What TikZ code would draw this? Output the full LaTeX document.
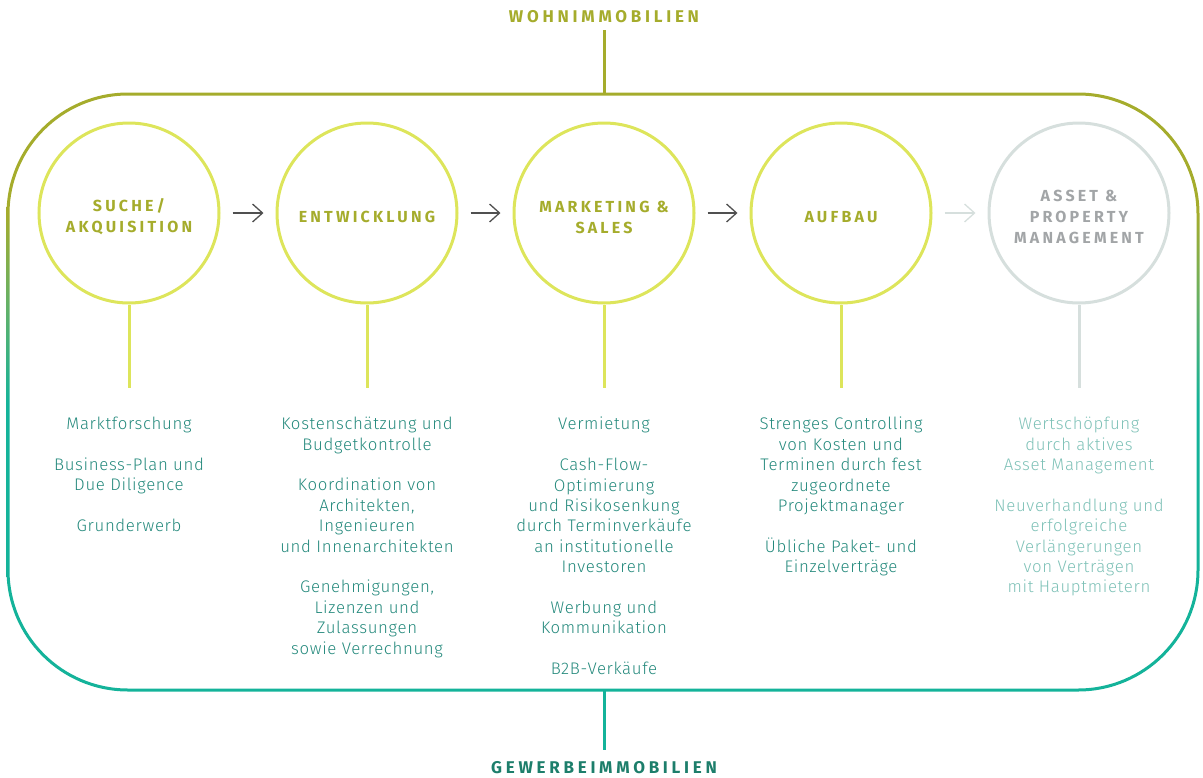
\documentclass[tikz,border=0pt]{standalone}
\usepackage{fontspec}
\IfFontExistsTF{Fira Sans Light}
  {\setmainfont{Fira Sans Light}[LetterSpace=4]}
  {\setmainfont{Fira Sans}[LetterSpace=4]}
\newfontfamily\capsfont{Fira Sans}[LetterSpace=20]
\newfontfamily\sectorfont{Fira Sans}[LetterSpace=22]
\usepackage{xcolor}
\usepackage{tikz}
\usetikzlibrary{positioning, arrows.meta}

\definecolor{wohn}{HTML}{A5AC2C}
\definecolor{gewerbe}{HTML}{14B39A}
\definecolor{gewerbedark}{HTML}{1D7E6B}
\definecolor{framemid}{HTML}{62B169}
\definecolor{ringcol}{HTML}{DDE55B}
\definecolor{ringgray}{HTML}{D6DFDD}
\definecolor{headgray}{HTML}{A2A5A7}
\definecolor{itemcol}{HTML}{24897C}
\definecolor{itemfade}{HTML}{7EC1B7}
\definecolor{arrowcol}{HTML}{505050}

% olive at the top, teal from the middle down
\pgfdeclareverticalshading{frameshade}{100bp}{color(0bp)=(gewerbe); color(49bp)=(gewerbe); color(57bp)=(framemid); color(65bp)=(wohn); color(100bp)=(wohn)}

\tikzset{
  phase/.style={circle, draw=ringcol, line width=3pt, minimum size=180pt, inner sep=0pt},
  heading/.style={align=center, inner sep=0pt, text=wohn, font=\capsfont\bfseries\fontsize{16}{21}\selectfont},
  items/.style={align=center, inner sep=0pt, text=itemcol, font=\fontsize{16.8}{20.4}\selectfont},
  stem/.style={draw=ringcol, line width=3pt, shorten >=29pt},
  flow/.style={draw=arrowcol, line width=1.3pt, -{Straight Barb[length=10pt, width=18pt]}, shorten <=12pt, shorten >=12pt},
  sector/.style={inner sep=0pt, font=\sectorfont\bfseries\fontsize{17}{18}\selectfont}
}

\begin{document}
\begin{tikzpicture}[x=1pt, y=-1pt]
  \useasboundingbox (0,0) rectangle (1203,777);

  % rounded frame
  \shade[shading=frameshade, even odd rule, rounded corners=121.5pt] (6.5,92.5) rectangle (1199.5,691.5)
    [rounded corners=118.5pt] (9.5,95.5) rectangle (1196.5,688.5);
  \coordinate (frametop) at (604,94);
  \coordinate (framebot) at (604,690);

  \node[sector, text=wohn] (wohnlabel) at (604,17) {WOHNIMMOBILIEN};
  \node[sector, text=gewerbedark] (gewerbelabel) at (604,767.5) {GEWERBEIMMOBILIEN};
  \draw[wohn, line width=3pt, shorten <=7pt] (wohnlabel) -- (frametop);
  \draw[gewerbe, line width=3pt, shorten >=11pt] (framebot) -- (gewerbelabel);

  % phases
  \foreach \i/\x in {1/129,2/367,3/604,4/841}
    \node[phase] (c\i) at (\x,213) {};
  \node[phase, draw=ringgray] (c5) at (1079,213) {};

  \node[heading] (h1) at ([yshift=-4pt]c1.center) {SUCHE/\\AKQUISITION};
  \node[heading] (h2) at ([yshift=-4pt]c2.center) {ENTWICKLUNG};
  \node[heading] (h3) at ([yshift=-4pt]c3.center) {MARKETING \&\\SALES};
  \node[heading] (h4) at ([yshift=-4pt]c4.center) {AUFBAU};
  \node[heading, text=headgray] (h5) at ([yshift=-4pt]c5.center) {ASSET \&\\PROPERTY\\MANAGEMENT};

  \foreach \i/\j in {1/2,2/3,3/4}
    \draw[flow] (c\i) -- (c\j);
  \draw[flow, draw=ringgray] (c4) -- (c5);

  % task lists
  \node[items, below=112.5pt of c1] (t1) {Marktforschung\\[20.4pt]Business-Plan und\\Due Diligence\\[20.4pt]Grunderwerb};
  \node[items, below=112.5pt of c2] (t2) {Kostenschätzung und\\Budgetkontrolle\\[20.4pt]Koordination von\\Architekten,\\Ingenieuren\\und Innenarchitekten\\[20.4pt]Genehmigungen,\\Lizenzen und\\Zulassungen\\sowie Verrechnung};
  \node[items, below=112.5pt of c3] (t3) {Vermietung\\[20.4pt]Cash-Flow-\\Optimierung\\und Risikosenkung\\durch Terminverkäufe\\an institutionelle\\Investoren\\[20.4pt]Werbung und\\Kommunikation\\[20.4pt]B2B-Verkäufe};
  \node[items, below=112.5pt of c4] (t4) {Strenges Controlling\\von Kosten und\\Terminen durch fest\\zugeordnete\\Projektmanager\\[20.4pt]Übliche Paket- und\\Einzelverträge};
  \node[items, text=itemfade, below=112.5pt of c5] (t5) {Wertschöpfung\\durch aktives\\Asset Management\\[20.4pt]Neuverhandlung und\\erfolgreiche\\Verlängerungen\\von Verträgen\\mit Hauptmietern};

  \foreach \i in {1,...,4}
    \draw[stem] (c\i) -- (t\i);
  \draw[stem, draw=ringgray] (c5) -- (t5);
\end{tikzpicture}
\end{document}
